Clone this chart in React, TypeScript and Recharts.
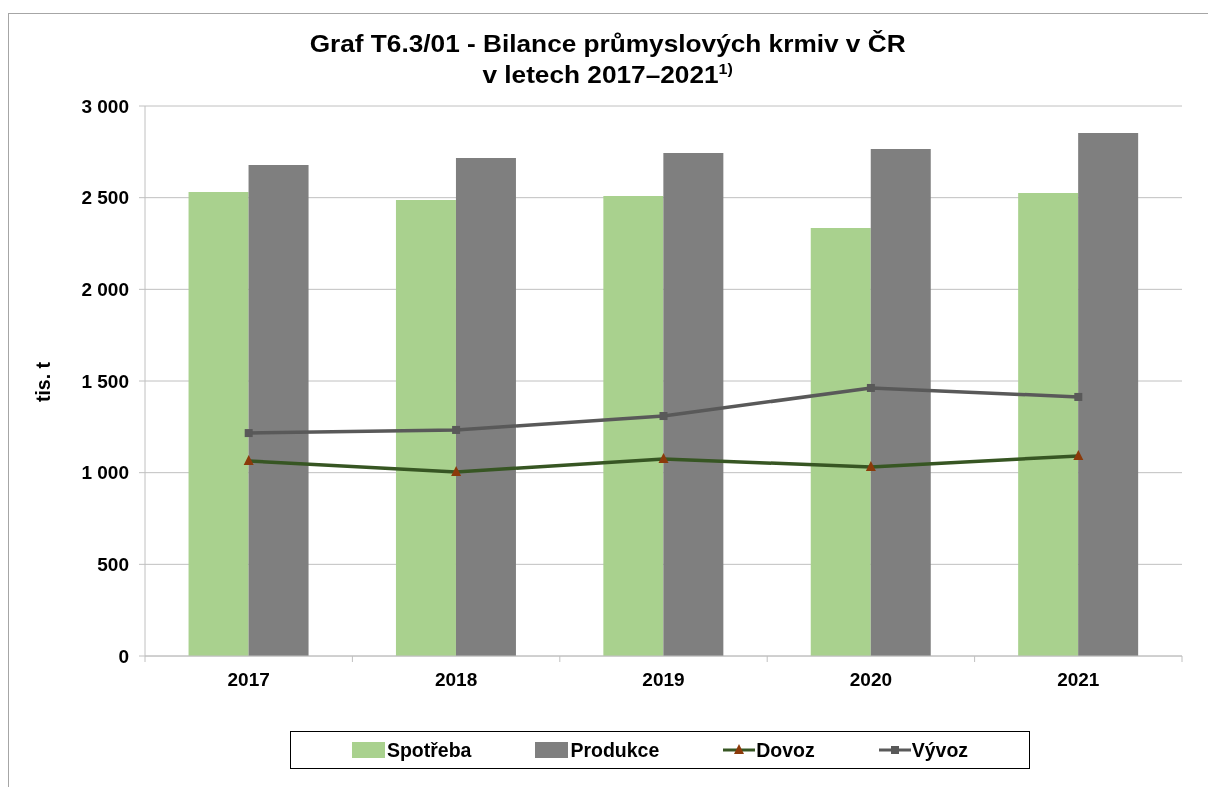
import { ComposedChart, Bar, Line, XAxis, YAxis, CartesianGrid, Legend } from "recharts";

const years = ["2017", "2018", "2019", "2020", "2021"];
const spotreba = [2531, 2487, 2509, 2335, 2525];
const produkce = [2678, 2716, 2744, 2765, 2853];
const dovoz = [1064, 1004, 1075, 1031, 1091];
const vyvoz = [1216, 1233, 1309, 1462, 1413];
const yTicks = [0, 500, 1000, 1500, 2000, 2500, 3000];

const rows = years.map((year, i) => ({
  year,
  spotreba: spotreba[i],
  produkce: produkce[i],
  dovoz: dovoz[i],
  vyvoz: vyvoz[i],
}));

const FONT = "'Liberation Sans', Arial, sans-serif";
const GRID = "#c0c0c0";
const C_SPOT = "#a9d18e";
const C_PROD = "#7f7f7f";
const C_DOV = "#375623";
const C_DOV_MK = "#8b3a0a";
const C_VYV = "#595959";

const fmtThousands = (v: number) => String(v).replace(/\B(?=(\d{3})+(?!\d))/g, " ");

function YearTick({ x, y, payload, width, visibleTicksCount, index }: any) {
  const half = width / visibleTicksCount / 2;
  const last = index === visibleTicksCount - 1;
  return (
    <g>
      <line x1={x - half} x2={x - half} y1={y} y2={y + 6} stroke={GRID} />
      {last && <line x1={x + half} x2={x + half} y1={y} y2={y + 6} stroke={GRID} />}
      <text x={x} y={y + 30} textAnchor="middle" fontFamily={FONT} fontWeight="bold" fontSize={19} fill="#000">
        {payload.value}
      </text>
    </g>
  );
}

function SquareDot({ cx, cy, index }: any) {
  return <rect key={`s-${index}`} x={cx - 4} y={cy - 4} width={8} height={8} fill={C_VYV} />;
}

function TriangleDot({ cx, cy, index }: any) {
  return (
    <polygon key={`t-${index}`} points={`${cx},${cy - 6} ${cx + 5},${cy + 4} ${cx - 5},${cy + 4}`} fill={C_DOV_MK} />
  );
}

function AxisTitle({ viewBox }: any) {
  const cx = viewBox.x - 22;
  const cy = viewBox.y + viewBox.height / 2 + 1;
  return (
    <text x={cx} y={cy} transform={`rotate(-90 ${cx} ${cy})`} textAnchor="middle" dominantBaseline="central"
      fontFamily={FONT} fontWeight="bold" fontSize={19.5} fill="#000">
      tis. t
    </text>
  );
}

function LegendBox() {
  const item = { display: "flex", alignItems: "center" } as const;
  const label = { fontWeight: "bold", fontSize: 19.5, color: "#000" } as const;
  return (
    <div style={{
      width: 740, height: 38, border: "1.5px solid #000", boxSizing: "border-box",
      display: "flex", alignItems: "center", justifyContent: "center", gap: 64, fontFamily: FONT,
    }}>
      <div style={item}>
        <span style={{ width: 33, height: 16, background: C_SPOT, marginRight: 2 }} />
        <span style={label}>Spotřeba</span>
      </div>
      <div style={item}>
        <span style={{ width: 33, height: 16, background: C_PROD, marginRight: 2 }} />
        <span style={label}>Produkce</span>
      </div>
      <div style={item}>
        <svg width={32} height={14} style={{ marginRight: 1 }}>
          <line x1={0} x2={32} y1={7} y2={7} stroke={C_DOV} strokeWidth={3} />
          <polygon points="16,1 21,11 11,11" fill={C_DOV_MK} />
        </svg>
        <span style={label}>Dovoz</span>
      </div>
      <div style={item}>
        <svg width={32} height={14} style={{ marginRight: 1 }}>
          <line x1={0} x2={32} y1={7} y2={7} stroke={C_VYV} strokeWidth={3} />
          <rect x={12} y={3} width={8} height={8} fill={C_VYV} />
        </svg>
        <span style={label}>Vývoz</span>
      </div>
    </div>
  );
}

export default function App() {
  return (
    <div style={{
      position: "fixed", left: 8, top: 13, width: 1200, height: 774, boxSizing: "border-box",
      borderTop: "1px solid #a6a6a6", borderLeft: "1px solid #a6a6a6", fontFamily: FONT, overflow: "hidden",
    }}>
      <div style={{
        position: "absolute", left: 0, top: 14, width: 1199, textAlign: "center",
        fontWeight: "bold", fontSize: 24.5, lineHeight: "31px", color: "#000",
        transform: "scaleX(1.07)", transformOrigin: "612px 0",
      }}>
        Graf T6.3/01 - Bilance průmyslových krmiv v ČR
        <br />
        v letech 2017–2021<sup style={{ fontSize: 15, verticalAlign: "9px", lineHeight: 0 }}>1)</sup>
      </div>
      <ComposedChart
        width={1199}
        height={765}
        data={rows}
        margin={{ top: 92, right: 26, bottom: 83, left: 56 }}
        barCategoryGap="21%"
        barGap={0}
      >
        <CartesianGrid stroke={GRID} vertical={false} />
        <XAxis dataKey="year" stroke={GRID} tickLine={false} tickSize={0} tickMargin={0} height={40}
          tick={<YearTick />} interval={0} />
        <YAxis domain={[0, 3000]} ticks={yTicks} width={80} stroke={GRID} tickSize={6} tickMargin={10}
          tickFormatter={fmtThousands} interval={0}
          tick={{ fill: "#000", fontSize: 19, fontWeight: "bold", fontFamily: FONT }}
          label={<AxisTitle />} />
        <Legend layout="horizontal" verticalAlign="middle" align="center"
          wrapperStyle={{ left: 281, top: 717, width: 740 }} content={<LegendBox />} />
        <Bar dataKey="spotreba" name="Spotřeba" fill={C_SPOT} isAnimationActive={false} />
        <Bar dataKey="produkce" name="Produkce" fill={C_PROD} isAnimationActive={false} />
        <Line dataKey="dovoz" name="Dovoz" type="linear" stroke={C_DOV} strokeWidth={3.5}
          dot={<TriangleDot />} activeDot={false} isAnimationActive={false} />
        <Line dataKey="vyvoz" name="Vývoz" type="linear" stroke={C_VYV} strokeWidth={3.5}
          dot={<SquareDot />} activeDot={false} isAnimationActive={false} />
      </ComposedChart>
    </div>
  );
}
